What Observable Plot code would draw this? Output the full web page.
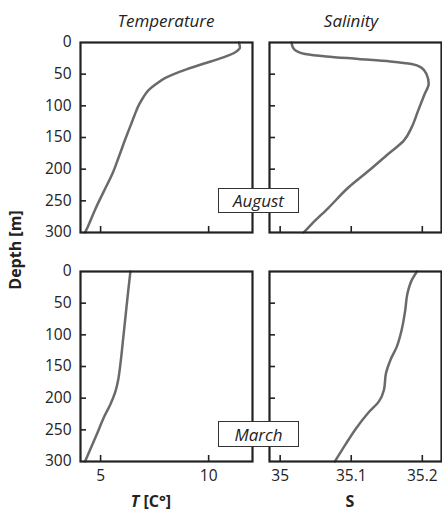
<!DOCTYPE html>
<html>
<head>
<meta charset="utf-8">
<script src="https://cdn.jsdelivr.net/npm/d3@7"></script>
<script src="https://cdn.jsdelivr.net/npm/@observablehq/plot@0.6"></script>
<style>
  html, body { margin: 0; padding: 0; background: #fff; }
  #chart { position: relative; width: 442px; height: 514px; font-family: "Open Sans", sans-serif; color: #222; }
  .abs { position: absolute; }
  .title { font-style: italic; font-size: 17px; transform: translate(-50%, -50%); white-space: nowrap; }
  .alabel { font-weight: bold; font-size: 16px; transform: translate(-50%, -50%); white-space: nowrap; }
  .box { border: 1.6px solid #333; background: #fff; font-style: italic; font-size: 17px; display: flex; align-items: center; justify-content: center; box-sizing: border-box; }
</style>
</head>
<body>
<div id="chart"></div>
<script>
// ---- data ----
const panelTitles = ["Temperature", "Salinity"];
const monthLabels = ["August", "March"];
const depthTicks = [0, 50, 100, 150, 200, 250, 300];
const tTicks = [5, 10];
const sTicks = [35, 35.1, 35.2];

// August temperature profile
const augTDepth = [0, 8, 15, 22, 30, 42, 56, 66, 76, 88, 100, 115, 130, 152, 180, 207, 235, 262, 290, 300];
const augTValue = [11.4, 11.45, 11.25, 10.8, 10.1, 9.0, 8.0, 7.55, 7.2, 6.95, 6.75, 6.57, 6.4, 6.15, 5.85, 5.55, 5.15, 4.77, 4.42, 4.28];
// August salinity profile
const augSDepth = [0, 8, 14, 18, 22, 26, 30, 34, 40, 50, 65, 82, 108, 134, 155, 176, 203, 229, 261, 287, 300];
const augSValue = [35.016, 35.018, 35.024, 35.035, 35.065, 35.11, 35.155, 35.185, 35.199, 35.206, 35.209, 35.203, 35.194, 35.185, 35.174, 35.152, 35.124, 35.096, 35.068, 35.044, 35.033];
// March temperature profile
const marTDepth = [0, 30, 72, 114, 145, 170, 190, 210, 229, 255, 282, 300];
const marTValue = [6.38, 6.28, 6.15, 6.02, 5.92, 5.82, 5.68, 5.45, 5.17, 4.85, 4.51, 4.28];
// March salinity profile
const marSDepth = [0, 14, 35, 61, 92, 119, 140, 160, 187, 205, 223, 249, 273, 300];
const marSValue = [35.1925, 35.185, 35.179, 35.176, 35.171, 35.164, 35.155, 35.149, 35.146, 35.139, 35.124, 35.106, 35.092, 35.077];

const tDomain = [4.07, 12.03];
const sDomain = [34.985, 35.227];

const toRows = (depths, values) => depths.map((d, i) => ({depth: d, value: values[i]}));

const chart = document.getElementById("chart");
const INK = "#222";
const LINE = "#6a6a6a";

function panel({rows, xDomain, xTicks, yLabels, xLabels, left, top, marginLeft, marginBottom}) {
  const W = 172, H = 190, marginTop = 12, marginRight = 3;
  const marks = [
    Plot.line(rows, {x: "value", y: "depth", curve: "monotone-y", stroke: LINE, strokeWidth: 2.5}),
    Plot.axisY({ticks: depthTicks.slice(1, -1), anchor: "left", tickSize: 6, dx: 6, tickFormat: () => "", stroke: INK, strokeWidth: 1.6, label: null}),
    Plot.axisX({ticks: xTicks, anchor: "bottom", tickSize: 6, dy: -6, tickFormat: () => "", stroke: INK, strokeWidth: 1.6, label: null}),
    Plot.frame({stroke: INK, strokeWidth: 2.2})
  ];
  if (yLabels) marks.push(Plot.axisY({ticks: depthTicks, anchor: "left", tickSize: 0, tickPadding: 9, tickFormat: String, fill: INK, fontWeight: 500, label: null}));
  if (xLabels) marks.push(Plot.axisX({ticks: xTicks, anchor: "bottom", tickSize: 0, tickPadding: 8, tickFormat: String, fill: INK, fontWeight: 500, label: null}));
  const svg = Plot.plot({
    width: marginLeft + W + marginRight,
    height: marginTop + H + marginBottom,
    marginLeft, marginRight, marginTop, marginBottom,
    x: {domain: xDomain},
    y: {domain: [0, 300], reverse: true},
    style: {fontFamily: "Open Sans, sans-serif", fontSize: "15.5px", color: INK, background: "transparent", overflow: "visible"},
    marks
  });
  svg.style.position = "absolute";
  svg.style.left = left + "px";
  svg.style.top = top + "px";
  chart.appendChild(svg);
}

panel({rows: toRows(augTDepth, augTValue), xDomain: tDomain, xTicks: tTicks, yLabels: true, xLabels: false, left: 0, top: 30, marginLeft: 80, marginBottom: 3});
panel({rows: toRows(augSDepth, augSValue), xDomain: sDomain, xTicks: sTicks, yLabels: false, xLabels: false, left: 266, top: 30, marginLeft: 3, marginBottom: 3});
panel({rows: toRows(marTDepth, marTValue), xDomain: tDomain, xTicks: tTicks, yLabels: true, xLabels: true, left: 0, top: 259, marginLeft: 80, marginBottom: 30});
panel({rows: toRows(marSDepth, marSValue), xDomain: sDomain, xTicks: sTicks, yLabels: false, xLabels: true, left: 266, top: 259, marginLeft: 3, marginBottom: 30});

function addDiv(cls, html, style) {
  const d = document.createElement("div");
  d.className = "abs " + cls;
  d.innerHTML = html;
  Object.assign(d.style, style);
  chart.appendChild(d);
  return d;
}
addDiv("title", panelTitles[0], {left: "166px", top: "20px"});
addDiv("title", panelTitles[1], {left: "351px", top: "20px"});
addDiv("alabel", "<i>T</i> [C°]", {left: "151px", top: "501px"});
addDiv("alabel", "S", {left: "350px", top: "501px"});
addDiv("alabel", "Depth [m]", {left: "15px", top: "250px", transform: "translate(-50%, -50%) rotate(-90deg)"});
addDiv("box", monthLabels[0], {left: "218px", top: "188px", width: "81px", height: "25px"});
addDiv("box", monthLabels[1], {left: "218px", top: "421px", width: "81px", height: "26px"});
</script>
</body>
</html>
